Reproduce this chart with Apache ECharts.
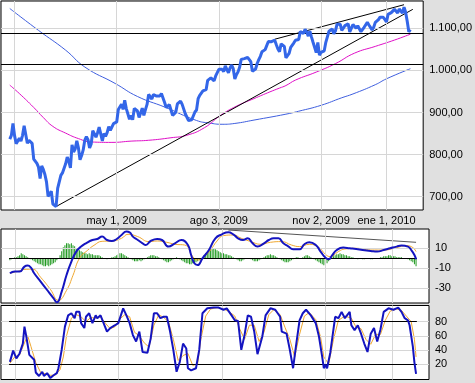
<!DOCTYPE html>
<html><head><meta charset="utf-8">
<script src="https://cdn.jsdelivr.net/npm/echarts@6/dist/echarts.min.js"></script>
<style>html,body{margin:0;padding:0;background:#e0e0e0}#c{width:475px;height:383px}</style>
</head><body><div id="c"></div><script>
// trading-day index of first close (0 = Feb 2, 2009)
const firstDay = -5;
const close = [836.57,845.71,874.09,845.14,825.88,
825.44,838.51,832.23,845.85,868.60,869.89,827.16,833.74,835.19,826.84,789.17,788.42,778.94,770.05,743.33,773.14,764.90,752.83,735.09,
700.82,696.33,712.87,682.55,683.38,676.53,719.60,721.36,750.74,756.55,753.89,778.12,794.35,784.04,768.54,822.92,806.12,813.88,832.86,815.94,787.53,797.87,
811.08,834.38,842.50,835.48,815.55,825.16,856.56,858.73,841.50,852.06,865.30,869.60,832.39,850.08,843.55,851.92,866.23,857.51,855.16,873.64,872.81,
877.52,907.24,903.80,919.53,907.39,929.23,909.24,908.35,883.92,893.07,882.88,909.71,908.13,903.47,888.33,887.00,910.33,893.06,906.83,919.14,
942.87,944.74,931.76,942.46,940.09,939.14,942.43,939.15,944.89,946.21,923.72,911.97,910.71,918.37,921.23,893.04,895.10,900.94,920.26,918.90,927.23,919.32,
923.33,896.42,898.72,881.03,879.56,882.68,879.13,901.05,905.84,932.68,940.74,940.38,951.13,954.58,954.07,976.29,979.26,982.18,979.62,975.15,986.75,987.48,
1002.63,1005.65,1002.72,997.08,1010.48,1007.10,994.35,1005.81,1012.73,1004.09,979.73,989.67,996.46,1007.37,1026.13,1025.57,1028.00,1028.12,1030.98,1028.93,1020.62,
998.04,994.75,1003.24,1016.40,1025.39,1033.37,1044.14,1042.73,1049.34,1052.63,1068.76,1065.49,1068.30,1064.66,1071.66,1060.87,1050.78,1044.38,1062.98,1060.61,1057.08,
1029.85,1025.21,1040.46,1054.72,1057.58,1065.48,1071.49,1076.19,1073.19,1092.02,1096.56,1087.68,1097.91,1091.06,1081.40,1092.91,1079.60,1066.95,1063.41,1042.63,1066.11,1036.19,
1042.88,1045.41,1046.50,1066.63,1069.30,1093.08,1093.01,1098.51,1087.24,1093.48,1109.30,1110.32,1109.80,1094.90,1091.38,1106.24,1105.65,1110.63,1091.49,1095.63,
1108.86,1109.24,1099.92,1105.98,1103.25,1091.94,1095.95,1102.35,1106.41,1114.11,1107.93,1109.18,1096.08,1102.47,1114.05,1118.02,1120.59,1126.48,1127.78,1126.20,1126.42,1115.10,
1132.99,1136.52,1137.14,1141.69,1144.98,1146.98,1136.22,1145.68,1148.46,1136.03,1150.23,1138.04,1116.48,1091.76,1096.78];
const maPink = [[-5,965],[1,945],[10,912],[16,888],[22,867],[30,851],[38,838],[46,830],[59,829],[71,832],[82,834],[96,840],[106,846],[117,864],[127,893],[137,915],[148,933],[158,949],[164,958],[168,964],[174,977],[187,996],[199,1016],[211,1041],[224,1057],[236,1072],[246,1086]];
const maBlue = [[-5,1147],[13,1095],[30,1048],[42,1008],[61,969],[75,938],[92,913],[112,881],[120,875],[128,872],[136,874],[148,882],[168,896],[176,903],[190,917],[203,935],[210,944],[224,966],[231,980],[246,1004]];
const trendUp = [[24,676.5],[247.5,1145]];
const trendTop = [[161,1074],[242,1156]];
const priceLevels = [1088,1013.5];
const macd = [[-5,-15],[-2,-13.3],[1,-13.3],[4,-8.3],[6,-7.3],[8,-9.3],[10,-15],[14,-23.3],[18,-31.7],[22,-40],[24,-44],[27,-33.3],[30,-16.7],[33,-3.3],[36,6.7],[39,11.7],[42,15],[46,18.3],[49,19.3],[52,21.7],[55,18.3],[58,17.3],[61,19.3],[64,23.3],[67,26.7],[69,26],[71,21.7],[74,18.3],[77,15],[79,13.3],[82,17.3],[86,19.3],[89,18.3],[93,11.7],[97,15],[101,18.3],[105,13.3],[107,3.3],[109,-5],[111,-6.7],[114,0],[118,8.3],[122,20],[126,24],[130,26],[133,24],[136,20],[139,18.3],[142,20],[145,15],[148,11.7],[152,15],[155,18.3],[158,20],[161,20],[164,15],[167,12],[170,9],[174,9],[177,14],[180,16],[184,13.3],[187,6.7],[190,0.7],[192,-1],[194,2.7],[197,8.3],[201,10.7],[205,10],[209,9.3],[213,8.3],[218,7.3],[222,6.7],[226,8.3],[230,10],[234,11.7],[237,12.7],[241,11.7],[243,8.3],[245,3.3],[246,-1]];
const signal = [[-5,-15],[0,-13],[5,-11],[9,-11],[14,-19],[20,-31],[25,-42],[30,-32],[34,-17],[38,0],[43,8],[47,13],[52,17],[58,17.3],[64,20],[68,24],[74,21.7],[81,16.7],[86,17.3],[92,16],[97,14],[103,13.3],[108,1.7],[111,-1.7],[115,1.7],[119,8.3],[123,17.3],[127,22.7],[133,23.3],[138,20],[144,16.7],[150,14],[156,16],[163,16.7],[169,13.3],[174,11.7],[180,14],[186,10.7],[190,4],[193,1.7],[198,6.7],[202,9.3],[209,10],[218,8.3],[226,8.3],[234,10.7],[240,12.7],[244,10.7],[246,6.7]];
const hist = [-2,-1,0,1,1,2,3,5,4,3, 2,1,0,-1,-2,-3,-4,-5,-6,-6, -7,-8,-8,-7,-8,-7,-6,-5,-4,-2, 0,3,7,11,13,15,15,14,15,13,
12,10,9,8,7,6,5,5,4,5, 4,4,3,3,3,3,2,1,0,0, -1,0,0,1,1,2,3,4,5,5, 4,3,2,1,0,-1,-2,-3,-3,-3, -2,-3,-2,-1,0,1,2,3,3,3,
2,2,1,0,-1,-2,-3,-4,-4,-3, -2,-1,0,1,0,-1,-2,-3,-4,-5, -5,-6,-6,-5,-5,-4,-3,-2,-1,1, 3,5,6,8,9,9,10,9,8,7, 6,5,5,4,4,3,3,2,1,0,
-1,-2,-3,-3,-2,-1,0,0,0,-1, -2,-3,-3,-3,-2,-1,0,1,2,3, 3,4,3,3,2,1,0,-1,-2,-3, -4,-4,-4,-3,-2,-1,0,1,1,0, 0,1,2,3,3,2,1,0,-1,-2,
-3,-4,-5,-6,-7,-6,-5,-3,-1,1, 2,3,4,4,5,4,4,3,3,2, 2,1,1,0,0,-1,0,0,-1,-1, 0,0,0,-1,-1,0,0,0,0,1, 1,2,2,2,3,3,2,2,2,1, 1,1,1,0,0,0,-1,-2,-3,-4, -6,-8];
const macdTrend = [[130,28.3],[246,16]];
const stochK = [[-5,23],[-3,39],[-1,28],[1,35],[3,49],[4,73],[5,61],[7,33],[10,26],[11,8],[13,3],[15,9],[16,3],[18,7],[20,0],[22,4],[24,7],[25,14],[27,40],[29,73],[31,89],[33,92],[35,85],[36,94],[38,94],[39,78],[41,71],[42,87],[44,92],[46,78],[48,89],[49,85],[51,89],[52,89],[55,66],[57,71],[60,75],[62,78],[65,99],[67,89],[69,78],[71,61],[73,52],[75,66],[77,37],[80,36],[82,56],[84,92],[86,92],[88,85],[90,87],[92,87],[94,66],[96,40],[98,9],[100,23],[102,49],[104,42],[105,14],[107,11],[110,14],[112,40],[114,92],[117,99],[121,100],[124,100],[127,97],[129,99],[132,89],[134,82],[136,81],[138,40],[140,61],[142,89],[144,87],[146,66],[148,34],[151,59],[153,89],[156,99],[159,97],[162,87],[163,66],[166,63],[168,40],[170,14],[172,49],[174,82],[176,92],[178,97],[181,89],[184,78],[186,59],[188,30],[189,14],[190,19],[191,14],[193,36],[196,87],[198,85],[200,94],[202,85],[205,94],[206,75],[208,68],[210,75],[212,63],[214,49],[216,37],[218,63],[220,71],[222,52],[224,69],[226,94],[229,99],[232,97],[235,100],[237,94],[239,85],[241,82],[242,75],[243,60],[244,45],[245,22],[246,6]];
const stochD = [[-5,21],[-2,30],[1,33],[4,50],[6,60],[8,45],[11,22],[14,8],[17,6],[20,4],[23,4],[26,12],[28,30],[30,60],[33,85],[36,90],[39,87],[42,80],[45,86],[48,85],[51,87],[54,78],[57,70],[60,73],[63,84],[66,90],[69,87],[72,65],[75,60],[78,50],[81,44],[84,75],[87,90],[90,86],[93,80],[96,55],[99,25],[102,32],[105,35],[108,18],[111,20],[113,55],[116,88],[119,98],[123,100],[127,98],[130,95],[134,88],[137,70],[140,55],[143,75],[146,75],[149,52],[152,65],[155,90],[158,97],[162,90],[165,72],[168,55],[171,30],[174,62],[177,88],[180,93],[184,83],[187,58],[189,30],[192,20],[195,55],[198,82],[202,88],[206,85],[209,72],[212,70],[215,55],[218,48],[221,62],[224,62],[227,82],[230,95],[234,98],[237,96],[240,88],[243,80],[245,55],[246,30]];
const stochBands = [20,80];
const gridDays = [-2,62,126,190,231];
const xTickDays = [62,126,190,231];
const xTickLabels = ['may 1, 2009','ago 3, 2009','nov 2, 2009','ene 1, 2010'];
const priceTicks = [700,800,900,1000,1100];
const macdTicks = [10,-10,-30];
const stochTicks = [20,40,60,80];

const priceData = close.map((v,i)=>[firstDay+i, v]);
const histData = hist.map((v,i)=>[firstDay+i, v]);
const lastDay = firstDay + close.length - 1;

function fmtPrice(v){
  const s = v.toFixed(2).split('.');
  return s[0].replace(/\B(?=(\d{3})+(?!\d))/g,'.') + ',' + s[1];
}
const FONT = 'Liberation Sans';
const GRIDC = '#d6d6d6';
function gridLines(g, yVals){
  return {type:'line', xAxisIndex:g, yAxisIndex:g, data:[], silent:true, z:1,
    markLine:{silent:true, symbol:'none', animation:false, label:{show:false}, emphasis:{disabled:true},
      lineStyle:{color:GRIDC, width:1, type:'solid'},
      data:[...gridDays.map(d=>({xAxis:d})), ...yVals.map(v=>({yAxis:v}))]}};
}
function segLines(g, segs, color, z){
  return {type:'line', xAxisIndex:g, yAxisIndex:g, data:[], silent:true, z:z,
    markLine:{silent:true, symbol:'none', animation:false, label:{show:false}, emphasis:{disabled:true},
      lineStyle:{color:color, width:1, type:'solid'}, data:segs}};
}
function line(g, data, color, width, z, smooth){
  return {type:'line', xAxisIndex:g, yAxisIndex:g, data:data, showSymbol:false, symbol:'none', silent:true,
    smooth: smooth||false, z:z, lineStyle:{color:color, width:width}};
}
const xBase = {type:'value', min:-10.5, max:254, axisLine:{show:false}, axisTick:{show:false}, splitLine:{show:false}};
function yAx(g, min, max, ticks, fmt){
  return {type:'value', gridIndex:g, position:'right', min:min, max:max, axisLine:{show:false},
    splitLine:{show:false},
    axisTick:{show:true, customValues:ticks, length:4, lineStyle:{color:'#000'}},
    axisLabel:{customValues:ticks, formatter:fmt, margin:6, fontSize:11, color:'#000', fontFamily:FONT}};
}
const panel = {show:true, backgroundColor:'#fff', borderColor:'#000', borderWidth:1};
const option = {
  animation:false,
  backgroundColor:'#e0e0e0',
  textStyle:{fontFamily:FONT},
  grid:[
    Object.assign({left:1, top:1, width:428, height:209}, panel),
    Object.assign({left:1, top:229, width:428, height:74}, panel),
    Object.assign({left:1, top:305.5, width:428, height:74}, panel)
  ],
  xAxis:[
    Object.assign({}, xBase, {gridIndex:0, axisLabel:{customValues:xTickDays, formatter:v=>xTickLabels[xTickDays.indexOf(v)], margin:5, fontSize:11, color:'#000', fontFamily:FONT}}),
    Object.assign({}, xBase, {gridIndex:1, axisLabel:{show:false}}),
    Object.assign({}, xBase, {gridIndex:2, axisLabel:{show:false}})
  ],
  yAxis:[
    yAx(0, 668.4, 1164.8, priceTicks, fmtPrice),
    yAx(1, -44.7, 29.3, macdTicks, v=>String(v)),
    yAx(2, -2, 103, stochTicks, v=>String(v))
  ],
  series:[
    gridLines(0, priceTicks),
    segLines(0, priceLevels.map(v=>({yAxis:v})), '#000', 2),
    line(0, maBlue, '#3f5fdf', 1, 3, true),
    line(0, maPink, '#e010c8', 1, 3, true),
    line(0, trendUp, '#000', 1, 4),
    line(0, trendTop, '#000', 1, 4),
    line(0, priceData, '#3366e8', 3, 5),

    gridLines(1, macdTicks),
    {type:'bar', xAxisIndex:1, yAxisIndex:1, data:histData, barWidth:1, silent:true, z:2, itemStyle:{color:'#229a22'}},
    segLines(1, [[{coord:[firstDay-0.5,0]},{coord:[lastDay+0.5,0]}]], '#000', 3),
    line(1, signal, '#f0a830', 1, 4, true),
    line(1, macd, '#1414c0', 2, 5, true),
    line(1, macdTrend, '#555', 1, 4),

    gridLines(2, stochTicks),
    segLines(2, stochBands.map(v=>[{coord:[firstDay-0.5,v]},{coord:[lastDay+0.5,v]}]), '#000', 3),
    line(2, stochD, '#f0a830', 1, 4),
    line(2, stochK, '#1414c0', 2, 5)
  ]
};
const chart = echarts.init(document.getElementById('c'));
chart.setOption(option);
</script></body></html>
